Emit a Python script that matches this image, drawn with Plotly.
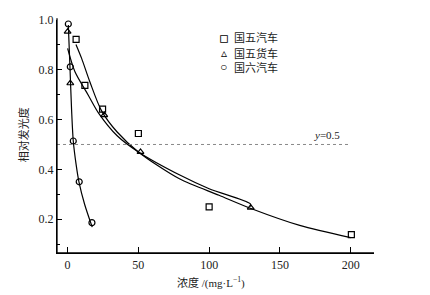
import plotly.graph_objects as go

# measured points
sq_x = [6, 12.2, 24.7, 50, 100, 200.5]
sq_y = [0.922, 0.737, 0.642, 0.544, 0.249, 0.138]
tri_x = [0, 1.9, 25.9, 51.5, 129.4]
tri_y = [0.953, 0.746, 0.618, 0.47, 0.246]
cir_x = [0.5, 1.9, 4, 8.2, 17.2]
cir_y = [0.984, 0.812, 0.514, 0.35, 0.186]

# fitted curves
sq_fit_x = [5.9, 9.9, 15.7, 24, 35, 50, 79, 107, 130, 164, 200]
sq_fit_y = [0.902, 0.846, 0.752, 0.635, 0.55, 0.47, 0.362, 0.296, 0.242, 0.175, 0.126]
tri_fit_x = [0, 5.2, 14.6, 22, 35, 50, 80, 100, 129, 129.4]
tri_fit_y = [0.886, 0.792, 0.698, 0.625, 0.535, 0.47, 0.375, 0.322, 0.262, 0.25]
cir_fit_x = [0.5, 1.6, 2.8, 4, 6, 8, 12, 17.4]
cir_fit_y = [0.98, 0.82, 0.64, 0.514, 0.42, 0.35, 0.26, 0.168]

names = ["国五汽车", "国五货车", "国六汽车"]
legend_glyphs = ["▫", "▵", "◦"]
x_ticks = [0, 50, 100, 150, 200]
y_ticks = [0.2, 0.4, 0.6, 0.8, 1.0]
ref_y = 0.5

FONT = "Liberation Serif, Times New Roman, Noto Sans CJK SC"

fig = go.Figure()
for fx, fy in [(sq_fit_x, sq_fit_y), (tri_fit_x, tri_fit_y), (cir_fit_x, cir_fit_y)]:
    fig.add_trace(go.Scatter(x=fx, y=fy, mode="lines", line=dict(color="black", width=1.2, shape="spline", smoothing=0.8),
                             showlegend=False, hoverinfo="skip"))

for xs, ys, sym, nm in [(sq_x, sq_y, "square-open", names[0]),
                        (tri_x, tri_y, "triangle-up-open", names[1]),
                        (cir_x, cir_y, "circle-open", names[2])]:
    fig.add_trace(go.Scatter(x=xs, y=ys, mode="markers", name=nm, showlegend=False,
                             marker=dict(symbol=sym, size=6, color="black", line=dict(width=1.2, color="black"))))

# legend drawn as text
leg_rows = [0.923, 0.858, 0.794]
glyph_sizes = [15, 12, 15]
for g, gs, nm, yy in zip(legend_glyphs, glyph_sizes, names, leg_rows):
    fig.add_annotation(x=0.526, y=yy, xref="paper", yref="paper", text="<b>%s</b>" % g, showarrow=False,
                       xanchor="center", yanchor="middle", font=dict(family="DejaVu Sans", size=gs, color="black"))
    fig.add_annotation(x=0.553, y=yy, xref="paper", yref="paper", text=nm, showarrow=False,
                       xanchor="left", yanchor="middle", font=dict(family=FONT, size=11, color="#222"))

fig.add_shape(type="line", xref="x", yref="y", x0=-7.5, x1=200, y0=ref_y, y1=ref_y,
              line=dict(color="#888", width=1, dash="dot"))
fig.add_annotation(x=183, y=ref_y, xref="x", yref="y", text="<i>y</i>=0.5", showarrow=False,
                   xanchor="center", yanchor="bottom", yshift=1, font=dict(family=FONT, size=11, color="#222"))

# axis lines
fig.add_shape(type="line", xref="paper", yref="paper", x0=0, x1=1, y0=0, y1=0,
              line=dict(color="black", width=1.3), layer="above")
fig.add_shape(type="line", xref="paper", yref="paper", x0=0, x1=0, y0=0, y1=1.007,
              line=dict(color="black", width=1.3), layer="above")

fig.add_annotation(x=-0.107, y=0.506, xref="paper", yref="paper", text="相对发光度", textangle=-90,
                   xanchor="center", yanchor="middle",
                   showarrow=False, font=dict(family=FONT, size=11, color="#222"))
fig.add_annotation(x=0.485, y=-0.125, xref="paper", yref="paper", text="浓度 /(mg·L<sup>−1</sup>)",
                   xanchor="center", yanchor="middle",
                   showarrow=False, font=dict(family=FONT, size=11, color="#222"))

fig.update_layout(
    width=430, height=295,
    margin=dict(l=57, r=55.7, t=20, b=42.3),
    plot_bgcolor="white", paper_bgcolor="white",
    font=dict(family=FONT, size=12, color="#222"),
    showlegend=False,
    xaxis=dict(range=[-7.5, 216.5], tickvals=x_ticks + [216.5], ticktext=[str(v) for v in x_ticks] + [" "],
               ticks="inside", ticklen=6, tickwidth=1.2, tickcolor="black",
               showline=True, linecolor="black", linewidth=1.3, showgrid=False, zeroline=False,
               tickfont=dict(family=FONT, size=12)),
    yaxis=dict(range=[0.064, 1.0], tickvals=y_ticks, ticktext=["%.1f" % v for v in y_ticks],
               ticks="inside", ticklen=5, tickwidth=1.2, tickcolor="black",
               minor=dict(tickvals=[0.1, 0.3, 0.5, 0.7, 0.9], ticks="inside", ticklen=3, tickcolor="black"),
               showline=True, linecolor="black", linewidth=1.3, showgrid=False, zeroline=False,
               tickfont=dict(family=FONT, size=12)),
)

fig.write_html("out.html", config={"displayModeBar": False},
               post_script="document.body.style.margin='0';document.body.style.overflow='hidden';")
